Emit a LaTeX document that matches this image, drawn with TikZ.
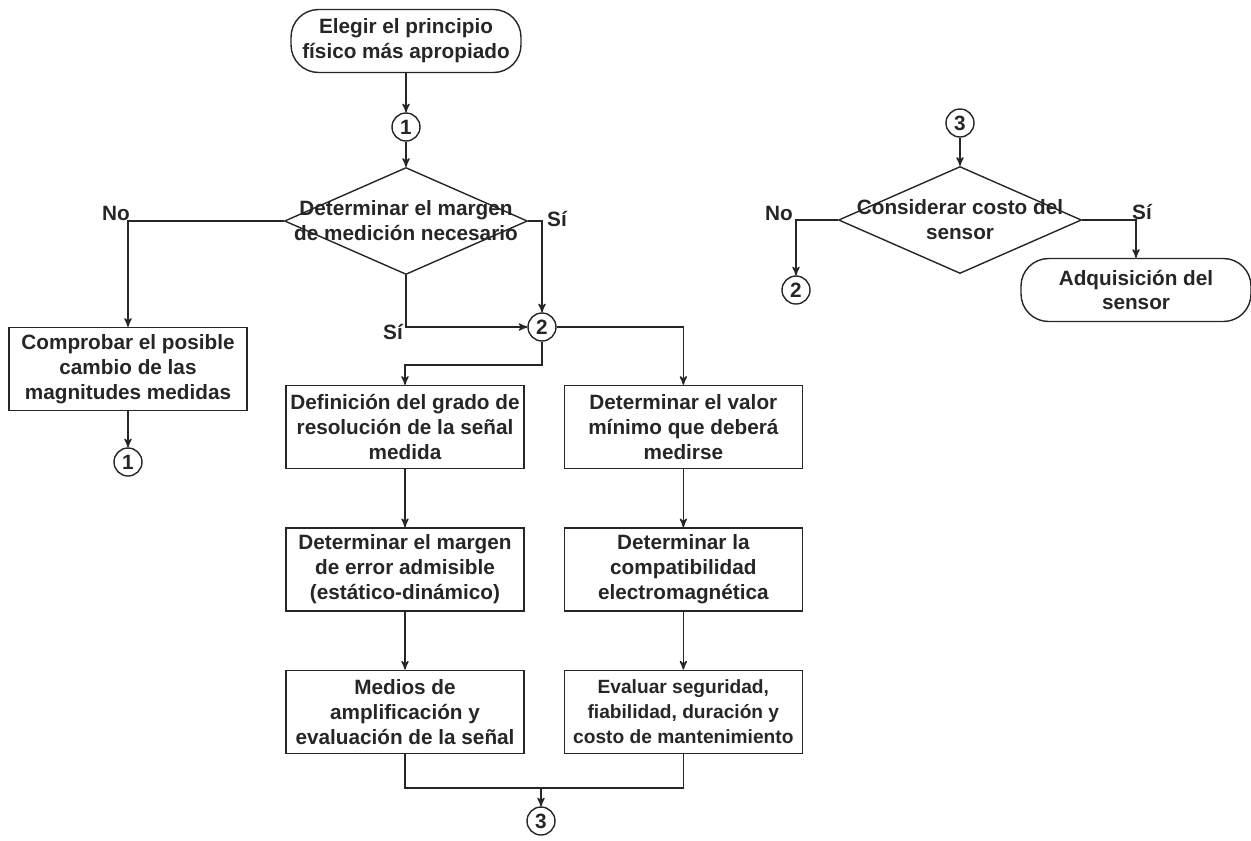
\documentclass[tikz,border=0pt]{standalone}
\usepackage{fontspec}
\setmainfont{Liberation Sans}
\usetikzlibrary{arrows, shapes, positioning}

\begin{document}
\begin{tikzpicture}[x=0.02cm,y=-0.02cm,->,>=stealth',line width=0.8pt,color=black!85,
  font=\bfseries\fontsize{11.8}{14.2}\selectfont,
  every label/.style={align=center},
  proc/.style={rectangle,draw,align=center,minimum width=4.76cm,minimum height=1.66cm,inner sep=1pt},
  term/.style={rectangle,draw,rounded corners=0.55cm,align=center,minimum width=4.6cm,minimum height=1.26cm},
  cond/.style={diamond,draw,minimum width=4.86cm,minimum height=2.14cm,inner sep=0pt},
  conn/.style={circle,draw,minimum size=0.56cm,inner sep=0pt},
  hv/.style={to path={-| (\tikztotarget)}},
  vh/.style={to path={|- (\tikztotarget)}}]
  \useasboundingbox (0,0) rectangle (1251,840);

  % main branch
  \node[term] (start) at (406,41) {Elegir el principio\\físico más apropiado};
  \node[conn] (c1) at (406,127) {1};
  \node[cond] (margen) at (406,221) [label=center:{Determinar el margen\\de medición necesario}] {};
  \node[conn] (c2) at (542,327) {2};
  \node[proc] (check) at (128,369) {Comprobar el posible\\cambio de las\\magnitudes medidas};
  \node[conn] (c1b) at (128,462) {1};
  \node (no1) at (116,213) {No};
  \node (si1) at (557,219) {Sí};
  \node (si2) at (393,332) {Sí};

  % two columns
  \node[proc] (resol) at (405,427) {Definición del grado de\\resolución de la señal\\medida};
  \node[proc] (error) [below=1.16cm of resol] {Determinar el margen\\de error admisible\\(estático-dinámico)};
  \node[proc] (amplif) [below=1.16cm of error] {Medios de\\amplificación y\\evaluación de la señal};
  \node[proc] (minimo) [right=0.78cm of resol] {Determinar el valor\\mínimo que deberá\\medirse};
  \node[proc] (emc) [below=1.16cm of minimo] {Determinar la\\compatibilidad\\electromagnética};
  \node[proc, font=\bfseries\fontsize{10.9}{14.2}\selectfont] (seguridad) [below=1.16cm of emc] {Evaluar seguridad,\\fiabilidad, duración y\\costo de mantenimiento};
  \coordinate (j2) at (405,365);
  \coordinate (j3) at (541,788);
  \node[conn] (c3) at (541,821) {3};

  % cost decision
  \node[conn] (c3b) at (960,123) {3};
  \node[cond] (costo) at (960,220) [label=center:{Considerar costo del\\sensor}] {};
  \node[conn] (c2b) at (796,290) {2};
  \node[term] (fin) at (1136,290) {Adquisición del\\sensor};
  \node (no2) at (779,213) {No};
  \node (si3) at (1142,212) {Sí};

  \path
    (start) edge (c1)
    (c1) edge (margen)
    (margen.west) edge[hv] (check)
    (margen.east) edge[hv] (c2)
    (margen.south) edge[vh] (c2)
    (c2.east) edge[hv] (minimo)
    (check) edge (c1b)
    (resol) edge (error)
    (error) edge (amplif)
    (minimo) edge (emc)
    (emc) edge (seguridad)
    (j3) edge (c3)
    (c3b) edge (costo)
    (costo.west) edge[hv] (c2b)
    (costo.east) edge[hv] (fin);
  \draw (c2) |- (j2) -- (resol);
  \draw[-] (amplif) |- (j3) -| (seguridad);
\end{tikzpicture}
\end{document}
